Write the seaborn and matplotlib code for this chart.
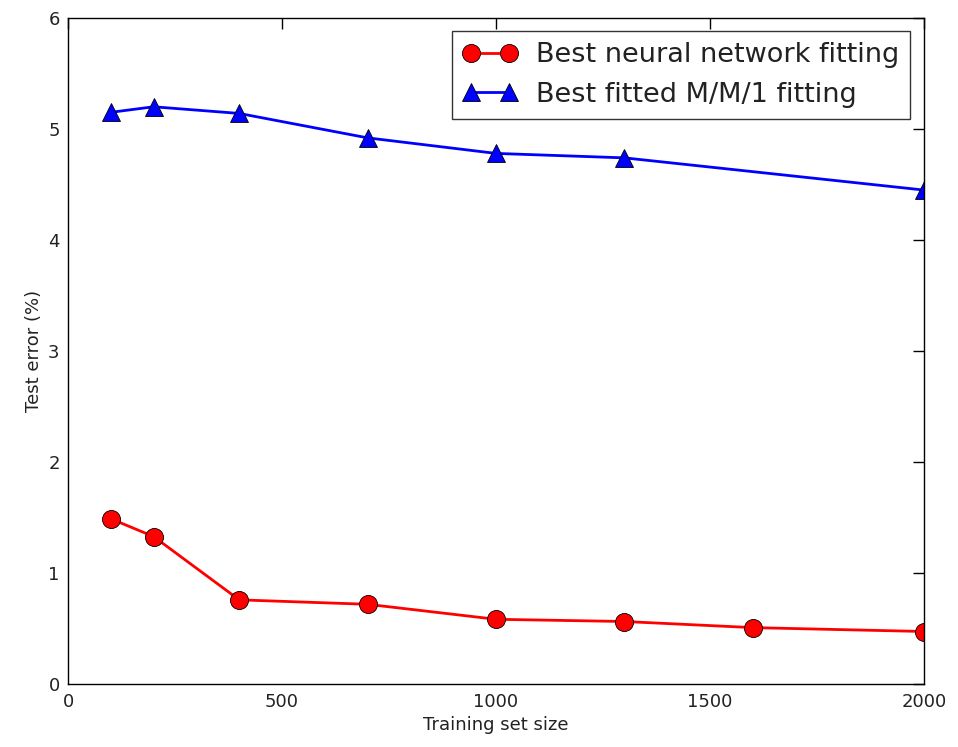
import pandas as pd
import matplotlib
matplotlib.use("Agg")
import matplotlib.pyplot as plt
import seaborn as sns

# values
nn_size = [100, 200, 400, 700, 1000, 1300, 1600, 2000]
nn_error = [1.49, 1.33, 0.76, 0.72, 0.585, 0.565, 0.51, 0.475]

mm1_size = [100, 200, 400, 700, 1000, 1300, 2000]
mm1_error = [5.15, 5.20, 5.14, 4.92, 4.78, 4.74, 4.45]

nn_df = pd.DataFrame({'size': nn_size, 'error': nn_error})
mm1_df = pd.DataFrame({'size': mm1_size, 'error': mm1_error})

sns.set_style('white')
plt.rcParams['font.family'] = ['DejaVu Sans']

fig = plt.figure(figsize=(9.58, 7.47), dpi=100)
ax = fig.add_axes([0.071, 0.084, 0.8935, 0.892])

sns.lineplot(data=nn_df, x='size', y='error', ax=ax, color='#ff0000',
             marker='o', markersize=13, markeredgecolor='black',
             markeredgewidth=0.6, linewidth=2, label='Best neural network fitting',
             legend=False)
sns.lineplot(data=mm1_df, x='size', y='error', ax=ax, color='#0000ff',
             marker='^', markersize=13, markeredgecolor='black',
             markeredgewidth=0.6, linewidth=2, label='Best fitted M/M/1 fitting',
             legend=False)

ax.set_xlim(0, 2000)
ax.set_ylim(0, 6)
ax.set_xticks([0, 500, 1000, 1500, 2000])
ax.set_yticks([0, 1, 2, 3, 4, 5, 6])
ax.tick_params(direction='in', length=8, width=1, top=True, right=True,
               labelsize=13, colors='black', labelcolor='#222222', pad=6)
for s in ax.spines.values():
    s.set_color('black')
    s.set_linewidth(1)

ax.set_xlabel('Training set size', fontsize=13, color='#222222')
ax.set_ylabel('Test error (%)', fontsize=13, color='#222222')

leg = ax.legend(loc='upper right', numpoints=2, fontsize=19.5, frameon=True,
                fancybox=False, borderaxespad=0.5, handlelength=2.0,
                labelspacing=0.5, handletextpad=0.7)
leg.get_frame().set_edgecolor('black')
leg.get_frame().set_linewidth(1)
for t in leg.get_texts():
    t.set_color('#222222')

fig.savefig('out.png', dpi=100)
